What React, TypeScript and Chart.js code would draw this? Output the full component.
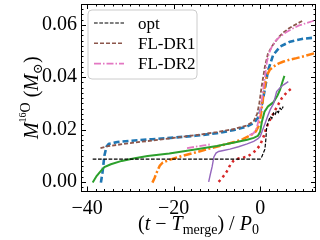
import React, { useEffect, useRef } from "react";
import { Chart, registerables } from "chart.js";
Chart.register(...registerables);

const X_MIN = -41.4;
const X_MAX = 12.9;
const Y_MIN = -0.0037;
const Y_MAX = 0.068;
const xTickValues = [-40, -20, 0];
const yTickValues = [0, 0.02, 0.04, 0.06];

const optX = [-38.7, 0, 0.4, 1.1, 1.3, 1.5, 1.9, 2.3, 2.7, 3.1, 3.4, 3.8, 4.2, 4.6, 5.0, 5.3];
const optY = [0.0087, 0.0087, 0.0097, 0.0125, 0.016, 0.021, 0.023, 0.025, 0.0243, 0.0263, 0.0255, 0.0272, 0.0265, 0.0282, 0.0275, 0.0288];

const dr1X = [-36.9, -35, -30, -25, -20, -15, -10, -6, -3, -1.5, -0.7, -0.2, 0.3, 0.7, 1.1, 1.8, 2.6, 3.5, 4.4, 5.3, 6.5, 7.6, 8.8, 9.9];
const dr1Y = [0.0129, 0.0137, 0.0148, 0.0158, 0.0168, 0.0178, 0.019, 0.0202, 0.0216, 0.0232, 0.026, 0.03, 0.036, 0.04, 0.0441, 0.049, 0.0515, 0.0536, 0.0555, 0.057, 0.0585, 0.0596, 0.0607, 0.0617];

const dr2X = [-16.9, -15, -13, -11.2, -7, -2.5, -1.5, -0.8, -0.3, 0.2, 0.7, 1.1, 1.5, 2.0, 2.7, 3.6, 4.6, 6, 7.6, 9, 10.7, 12, 13];
const dr2Y = [0.0129, 0.0134, 0.0139, 0.0144, null, 0.0178, 0.0186, 0.0205, 0.024, 0.029, 0.0352, 0.04, 0.0454, 0.049, 0.0517, 0.054, 0.0555, 0.0572, 0.0587, 0.0598, 0.0607, 0.0614, 0.062];

const blueX = [-36.8, -36.4, -36.0, -35.5, -35.0, -33, -30, -25, -20, -15, -10, -6, -3, -1.5, -0.5, 0.2, 0.7, 1.2, 1.8, 3.0, 4.6, 6.9, 9.9, 12.9];
const blueY = [-0.0003, 0.004, 0.01, 0.0135, 0.0145, 0.0152, 0.0157, 0.0163, 0.0169, 0.0176, 0.0186, 0.0198, 0.0212, 0.0225, 0.0245, 0.028, 0.032, 0.0365, 0.0425, 0.0485, 0.0517, 0.0536, 0.0547, 0.0552];

const orangeX = [-24.9, -24.4, -23.8, -23.2, -22.5, -21, -18, -15, -12, -9, -6, -4, -2, -1, -0.3, 0.2, 0.5, 0.9, 1.5, 2.2, 3.1, 4.2, 5.4, 6.8, 8.4, 10.5, 13];
const orangeY = [-0.0003, 0.0015, 0.004, 0.0062, 0.0074, 0.0084, 0.0099, 0.0112, 0.0126, 0.0139, 0.0152, 0.0163, 0.018, 0.0193, 0.0215, 0.026, 0.03, 0.035, 0.0405, 0.0428, 0.0441, 0.0452, 0.046, 0.0467, 0.0473, 0.0482, 0.0494];

const greenX = [-38.7, -37.8, -36.8, -36, -34.5, -32, -29, -26, -21, -15.4, -10, -6, -3, -1.5, -0.5, 0, 0.4, 1.0, 1.8, 2.5, 3.1, 4.0, 4.6, 5.1, 5.6];
const greenY = [-0.0003, 0.0022, 0.0042, 0.0056, 0.0067, 0.008, 0.009, 0.0099, 0.0108, 0.0123, 0.0137, 0.015, 0.0161, 0.0168, 0.0176, 0.0192, 0.023, 0.0268, 0.0288, 0.0297, 0.0305, 0.033, 0.0352, 0.038, 0.0405];

const purpleX = [-11.9, -11.5, -11.1, -10.7, -10.2, -9.6, -8.5, -7, -5, -3, -1.5, -0.5, 0, 0.5, 1.15, 1.7, 2.3, 3.1, 3.8, 4.6, 5.4, 6.5];
const purpleY = [0.0, 0.003, 0.0058, 0.0095, 0.011, 0.0116, 0.012, 0.0125, 0.0134, 0.0145, 0.0155, 0.0165, 0.0173, 0.0195, 0.0224, 0.025, 0.0275, 0.03, 0.0345, 0.036, 0.0371, 0.0383];

const redX = [-9.6, -8.8, -7.7, -6.9, -6.1, -5, -3, -1.9, -1, 0, 0.8, 1.5, 2.3, 3.1, 4, 5, 6.2, 7.3];
const redY = [0.0, 0.0014, 0.004, 0.0065, 0.0082, 0.0089, 0.0096, 0.0108, 0.012, 0.0141, 0.0173, 0.021, 0.0238, 0.0263, 0.029, 0.032, 0.0343, 0.0358];

const legendLabels = ["opt", "FL-DR1", "FL-DR2"];

const SERIF = '"Liberation Serif", "DejaVu Serif", serif';

function pts(xs: number[], ys: (number | null)[]) {
  return xs.map((x, i) => ({ x, y: ys[i] }));
}

type Seg = { t: string; size: number; italic?: boolean; dy?: number };

function fontOf(s: Seg) {
  return `${s.italic ? "italic " : ""}${s.size}px ${SERIF}`;
}

function drawRich(ctx: CanvasRenderingContext2D, segs: Seg[], cx: number, y: number) {
  let total = 0;
  for (const s of segs) {
    ctx.font = fontOf(s);
    total += ctx.measureText(s.t).width;
  }
  let x = cx - total / 2;
  ctx.textAlign = "left";
  ctx.textBaseline = "alphabetic";
  for (const s of segs) {
    ctx.font = fontOf(s);
    ctx.fillText(s.t, x, y + (s.dy || 0));
    x += ctx.measureText(s.t).width;
  }
}

const legendStyles = [
  { color: "#000000", width: 1.2, dash: [3.7, 1.6] },
  { color: "#8c564b", width: 1.6, dash: [4, 2] },
  { color: "#e377c2", width: 1.6, dash: [7, 2, 1.5, 2] },
];

const decor = {
  id: "decor",
  afterDraw(chart: any) {
    const { ctx, chartArea: a, scales } = chart;
    const xs = scales.x;
    const ys = scales.y;
    ctx.save();
    ctx.strokeStyle = "#000";
    ctx.lineWidth = 1;
    ctx.setLineDash([]);
    const seg = (x1: number, y1: number, x2: number, y2: number) => {
      ctx.beginPath();
      ctx.moveTo(x1, y1);
      ctx.lineTo(x2, y2);
      ctx.stroke();
    };
    for (let k = -20; k * 2 <= X_MAX; k++) {
      const v = k * 2;
      if (v < X_MIN) continue;
      const px = Math.round(xs.getPixelForValue(v)) + 0.5;
      const L = v % 20 === 0 ? 5 : 2.5;
      seg(px, a.bottom, px, a.bottom - L);
      seg(px, a.top, px, a.top + L);
    }
    for (let k = -1; k * 0.002 <= Y_MAX; k++) {
      const v = k * 0.002;
      const py = Math.round(ys.getPixelForValue(v)) + 0.5;
      const L = k % 10 === 0 ? 5 : 2.5;
      seg(a.left, py, a.left + L, py);
      seg(a.right, py, a.right - L, py);
    }
    ctx.strokeRect(Math.round(a.left) + 0.5, Math.round(a.top) + 0.5, Math.round(a.right - a.left) - 1, Math.round(a.bottom - a.top) - 1);

    // legend
    const lx = 88, ly = 10, lw = 109, lh = 69, r = 4;
    ctx.beginPath();
    ctx.moveTo(lx + r, ly);
    ctx.arcTo(lx + lw, ly, lx + lw, ly + lh, r);
    ctx.arcTo(lx + lw, ly + lh, lx, ly + lh, r);
    ctx.arcTo(lx, ly + lh, lx, ly, r);
    ctx.arcTo(lx, ly, lx + lw, ly, r);
    ctx.closePath();
    ctx.fillStyle = "rgba(255,255,255,0.8)";
    ctx.fill();
    ctx.strokeStyle = "#cccccc";
    ctx.lineWidth = 1;
    ctx.stroke();
    legendLabels.forEach((lab, i) => {
      const yy = 23 + i * 20.3;
      const st = legendStyles[i];
      ctx.strokeStyle = st.color;
      ctx.lineWidth = st.width;
      ctx.setLineDash(st.dash);
      seg(94, yy, 124, yy);
      ctx.setLineDash([]);
      ctx.fillStyle = "#000";
      ctx.font = `17px ${SERIF}`;
      ctx.textAlign = "left";
      ctx.textBaseline = "alphabetic";
      ctx.fillText(lab, 138, yy + 5.5);
    });

    // axis titles
    ctx.fillStyle = "#000";
    const cx = (a.left + a.right) / 2;
    drawRich(ctx, [
      { t: "(", size: 20 },
      { t: "t", size: 20, italic: true },
      { t: " \u2212 ", size: 20 },
      { t: "T", size: 20, italic: true },
      { t: "merge", size: 14, dy: 4 },
      { t: ")", size: 20 },
      { t: " / ", size: 20 },
      { t: "P", size: 20, italic: true },
      { t: "0", size: 14, dy: 4 },
    ], cx, 230);

    ctx.save();
    ctx.translate(38, (a.top + a.bottom) / 2);
    ctx.rotate(-Math.PI / 2);
    drawRich(ctx, [
      { t: "M", size: 20, italic: true },
      { t: "16", size: 10, dy: -12 },
      { t: "O", size: 14, dy: -8 },
      { t: " (", size: 20 },
      { t: "M", size: 20, italic: true },
      { t: "\u2299", size: 13, dy: 4 },
      { t: ")", size: 20 },
    ], 0, 0);
    ctx.restore();
    ctx.restore();
  },
};

export default function App() {
  const ref = useRef<HTMLCanvasElement | null>(null);
  useEffect(() => {
    if (!ref.current) return;
    const mk = (label: string, xs: number[], ys: (number | null)[], color: string, width: number, dash: number[], cap: any = "butt") => ({
      label,
      data: pts(xs, ys),
      borderColor: color,
      backgroundColor: color,
      borderWidth: width,
      borderDash: dash,
      borderCapStyle: cap,
      pointRadius: 0,
      tension: 0,
      fill: false,
      spanGaps: false,
    });
    const chart = new Chart(ref.current, {
      type: "line",
      data: {
        datasets: [
          mk("opt", optX, optY, "#000000", 1.2, [3.7, 1.6]),
          mk("FL-DR2", dr2X, dr2Y, "#e377c2", 1.8, [7, 2, 1.5, 2]),
          mk("FL-DR1", dr1X, dr1Y, "#8c564b", 1.8, [4, 2]),
          mk("c4", purpleX, purpleY, "#9467bd", 1.4, []),
          mk("c3", redX, redY, "#d62728", 2.5, [2.5, 3.5]),
          mk("c2", greenX, greenY, "#2ca02c", 2, []),
          mk("c1", orangeX, orangeY, "#ff7f0e", 2.5, [8, 2.5, 2, 2.5]),
          mk("c0", blueX, blueY, "#1f77b4", 2.6, [6, 3]),
        ] as any,
      },
      options: {
        responsive: false,
        devicePixelRatio: 1,
        animation: false,
        layout: { padding: { left: 0, top: 4, right: 4, bottom: 0 } },
        plugins: { legend: { display: false }, tooltip: { enabled: false } },
        scales: {
          x: {
            type: "linear",
            min: X_MIN,
            max: X_MAX,
            grid: { display: false, drawTicks: false },
            border: { display: false },
            afterBuildTicks: (s: any) => { s.ticks = xTickValues.map((v) => ({ value: v })); },
            afterFit: (s: any) => { s.height = 48.5; s.paddingLeft = 0; s.paddingRight = 0; s.paddingTop = 0; s.paddingBottom = 0; },
            ticks: {
              color: "#000",
              padding: 5,
              maxRotation: 0,
              font: { family: SERIF, size: 20 },
              callback: (v: any) => (v < 0 ? "\u2212" + Math.abs(v) : String(v)),
            },
          },
          y: {
            type: "linear",
            min: Y_MIN,
            max: Y_MAX,
            grid: { display: false, drawTicks: false },
            border: { display: false },
            afterBuildTicks: (s: any) => { s.ticks = yTickValues.map((v) => ({ value: v })); },
            afterFit: (s: any) => { s.width = 81; s.paddingLeft = 0; s.paddingRight = 0; s.paddingTop = 0; s.paddingBottom = 0; },
            ticks: {
              color: "#000",
              padding: 4,
              font: { family: SERIF, size: 20 },
              callback: (v: any) => Number(v).toFixed(2),
            },
          },
        },
      },
      plugins: [decor],
    });
    return () => chart.destroy();
  }, []);
  return (
    <div style={{ position: "fixed", left: 0, top: 0, width: 320, height: 240, background: "#fff" }}>
      <canvas ref={ref} width={320} height={240} style={{ display: "block" }} />
    </div>
  );
}
